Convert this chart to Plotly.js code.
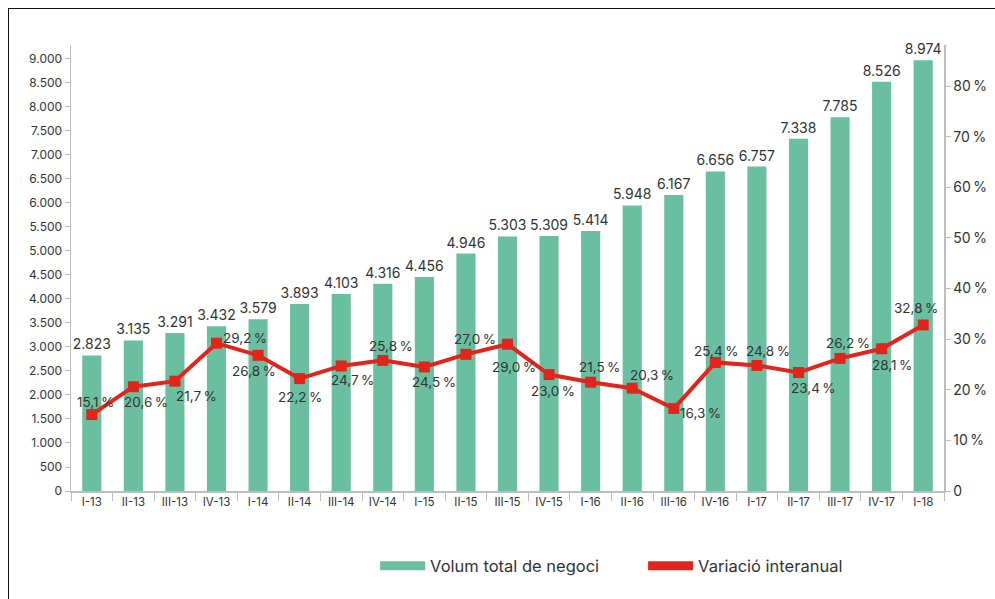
<!DOCTYPE html>
<html><head><meta charset="utf-8">
<script src="https://cdn.plot.ly/plotly-3.0.1.min.js"></script>
<style>
html,body{margin:0;padding:0;background:#fff;}
#frame{position:absolute;left:8px;top:8px;width:1000px;height:600px;border-left:1.5px solid #111;border-top:1.5px solid #111;}
#chart{position:absolute;left:0;top:0;width:995px;height:599px;}
</style>
</head><body>
<div id="frame"></div>
<div id="chart"></div>
<script>
const categories = ["I-13","II-13","III-13","IV-13","I-14","II-14","III-14","IV-14","I-15","II-15","III-15","IV-15","I-16","II-16","III-16","IV-16","I-17","II-17","III-17","IV-17","I-18"];
const volum = [2823,3135,3291,3432,3579,3893,4103,4316,4456,4946,5303,5309,5414,5948,6167,6656,6757,7338,7785,8526,8974];
const variacio = [15.1,20.6,21.7,29.2,26.8,22.2,24.7,25.8,24.5,27.0,29.0,23.0,21.5,20.3,16.3,25.4,24.8,23.4,26.2,28.1,32.8];
const leftTicks = [0,500,1000,1500,2000,2500,3000,3500,4000,4500,5000,5500,6000,6500,7000,7500,8000,8500,9000];
const rightTicks = [0,10,20,30,40,50,60,70,80];
const seriesNames = ["Volum total de negoci","Variació interanual"];

// label placement offsets (screen px, relative to each point): styling only
const labelDx = [4,13,22,28,-4,0,11,8,10,9,6,4,9,20,27,1,11,15,8,10,-7];
const labelDy = [-13,15,15,-5,16,18,14,-14,15,-15,23,16,-15,-13,5,-11,-14,15,-15,16,-17];

const fmtK = v => String(v).replace(/\B(?=(\d{3})+(?!\d))/g, ".");
const fmtP = v => v.toFixed(1).replace(".", ",") + "\u2009%";

const GREEN = "#69bf9f", RED = "#e3241b", TXT = "#333333", AX = "#bdbdbd";
const FONT = "Inter, 'Open Sans', sans-serif";

const traces = [
  {type:"bar", x:categories, y:volum, marker:{color:GREEN}, text:volum.map(fmtK), textposition:"outside",
   constraintext:"none", textfont:{size:14,color:TXT,family:FONT}, cliponaxis:false, showlegend:false, hoverinfo:"x+y"},
  {type:"scatter", mode:"lines+markers", x:categories, y:variacio, yaxis:"y2",
   line:{color:RED,width:4}, marker:{symbol:"square",size:11,color:RED},
   cliponaxis:false, showlegend:false},
  {type:"scatter", mode:"lines", x:[null], y:[null], name:seriesNames[0], line:{color:GREEN,width:9}, showlegend:true},
  {type:"scatter", mode:"lines", x:[null], y:[null], yaxis:"y2", name:seriesNames[1], line:{color:RED,width:9}, showlegend:true}
];

const annotations = categories.map((c, i) => ({
  x:c, y:variacio[i], xref:"x", yref:"y2", text:fmtP(variacio[i]), showarrow:false,
  xanchor:"center", yanchor:"middle", xshift:labelDx[i], yshift:-labelDy[i],
  font:{size:13.5, color:TXT, family:FONT}
}));

const layout = {
  width:995, height:599,
  margin:{l:71, r:51, t:45, b:108},
  paper_bgcolor:"rgba(0,0,0,0)", plot_bgcolor:"rgba(0,0,0,0)",
  font:{family:FONT, color:TXT, size:12},
  bargap:0.54,
  annotations:annotations,
  xaxis:{type:"category", range:[-0.5,20.5], showline:true, linecolor:AX, linewidth:1.5, ticks:"outside", tickson:"boundaries",
         ticklen:8, tickcolor:AX, tickangle:0, tickfont:{size:11.5,color:TXT}, showgrid:false, zeroline:false, automargin:false},
  yaxis:{range:[0,9290], tickvals:leftTicks, ticktext:leftTicks.map(fmtK), showline:true, linecolor:AX, linewidth:1.5,
         ticks:"outside", ticklen:5, tickcolor:AX, tickfont:{size:12,color:TXT}, showgrid:false, zeroline:false, automargin:false},
  yaxis2:{overlaying:"y", side:"right", range:[0,88.1], tickvals:rightTicks,
          ticktext:rightTicks.map(v => v===0 ? "0" : v + "\u2009%"), showline:true, linecolor:AX, linewidth:1.5,
          ticks:"outside", ticklen:5, tickcolor:AX, tickfont:{size:14,color:TXT}, showgrid:false, zeroline:false, automargin:false},
  showlegend:true,
  legend:{orientation:"h", xref:"container", yref:"container", x:0.377, xanchor:"left", y:0.055, yanchor:"middle",
          font:{size:16.5,color:TXT}, itemwidth:45, entrywidth:208, entrywidthmode:"pixels", bgcolor:"rgba(0,0,0,0)"}
};

Plotly.newPlot("chart", traces, layout, {displayModeBar:false, staticPlot:true});
</script>
</body></html>
